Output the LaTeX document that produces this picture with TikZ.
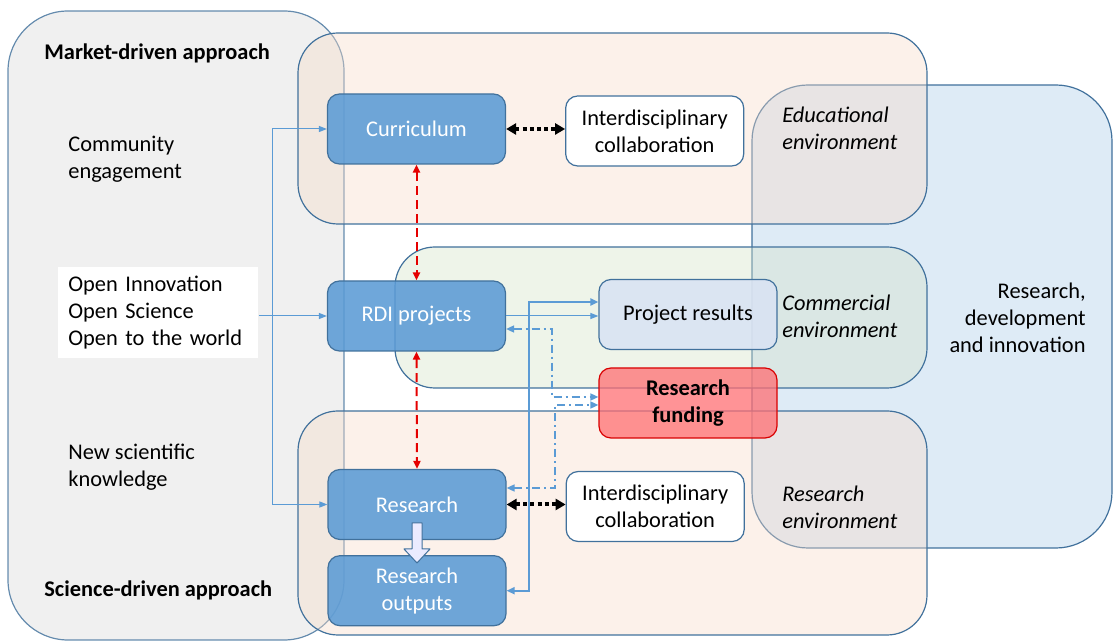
\documentclass[tikz,border=0pt]{standalone}
\usepackage{fontspec}
\setmainfont{Carlito}
\usepackage{xcolor}
\usetikzlibrary{positioning, arrows.meta}

\definecolor{edgeblue}{HTML}{41719C}
\definecolor{nodeblue}{HTML}{5B9BD5}
\definecolor{paleblue}{HTML}{DAE3F3}
\definecolor{rdiblue}{HTML}{BDD7EE}
\definecolor{peach}{HTML}{F7DCCA}
\definecolor{mint}{HTML}{D4E3C8}
\definecolor{fundred}{HTML}{FF6F73}
\definecolor{linkblue}{HTML}{5B9BD5}

\begin{document}
\begin{tikzpicture}[
  x=0.5pt, y=-0.5pt,
  font=\fontsize{11.2}{13.5}\selectfont,
  region/.style={draw=edgeblue, line width=0.6pt, rounded corners=20pt},
  bluebox/.style={draw=edgeblue, fill=nodeblue, fill opacity=0.88, text opacity=1,
    rounded corners=6pt, minimum width=89pt, minimum height=35pt, align=center,
    text=white, line width=0.6pt},
  whitebox/.style={bluebox, fill=white, fill opacity=1, text=black},
  resultbox/.style={bluebox, fill=paleblue, fill opacity=0.9, text=black},
  fundbox/.style={bluebox, draw=red!85!black, fill=fundred, fill opacity=0.75,
    text=black, font=\fontsize{11.2}{13.5}\selectfont\bfseries},
  lbl/.style={anchor=west, align=left, inner xsep=0pt},
  envlbl/.style={lbl, font=\fontsize{11.2}{13.5}\selectfont\itshape},
  thinarr/.style={-{Triangle[length=4pt, width=3pt]}, draw=linkblue, line width=0.5pt},
  thickarr/.style={{Triangle[length=4pt, width=3.5pt]}-{Triangle[length=4pt, width=3.5pt]},
    draw=linkblue, line width=1pt},
  dasharr/.style={{Triangle[length=4pt, width=3.5pt]}-{Triangle[length=4pt, width=3.5pt]},
    draw=linkblue, line width=0.8pt, dash pattern=on 4pt off 2pt on 1pt off 2pt},
  reddash/.style={{Triangle[length=4pt, width=3.5pt]}-{Triangle[length=4pt, width=3.5pt]},
    draw=red!90!black, line width=1pt, dash pattern=on 4.5pt off 2.5pt},
  dotarr/.style={{Triangle[length=5pt, width=5.5pt]}-{Triangle[length=5pt, width=5.5pt]},
    draw=black, line width=2pt, dash pattern=on 2pt off 1.6pt}
]
\useasboundingbox (0,0) rectangle (1116,641);

% regions
\draw[region, rounded corners=30pt, fill=black!6, draw opacity=0.8] (8,11) rectangle (344,640);
\draw[region, rounded corners=28pt, fill=rdiblue, fill opacity=0.5] (752,85) rectangle (1112,548);
\draw[region, fill=peach, fill opacity=0.4] (298,33) rectangle (927,224);
\draw[region, fill=mint, fill opacity=0.4] (395,247) rectangle (927,388);
\draw[region, fill=peach, fill opacity=0.4] (298,411) rectangle (927,635);

% approach labels
\node[lbl, font=\fontsize{11.2}{13.5}\selectfont\bfseries] (market) at (44,53) {Market-driven approach};
\node[lbl, font=\fontsize{11.2}{13.5}\selectfont\bfseries] (science) at (44,590) {Science-driven approach};
\node[lbl] (community) at (68,159.5) {Community\\engagement};
\node[lbl, fill=white, text width=90pt, inner xsep=5pt, minimum height=45.5pt]
  (open) at (58,313) {Open Innovation\\Open Science\\Open to the world};
\node[lbl] (newsci) at (68,467.5) {New scientific\\knowledge};

% environment labels
\node[envlbl] (edu) at (782,128) {Educational\\environment};
\node[envlbl] (comm) at (782,316.5) {Commercial\\environment};
\node[envlbl] (resenv) at (782,507.5) {Research\\environment};
\node[anchor=east, align=right, inner xsep=0pt] (rdilbl) at (1086,317.5) {Research,\\development\\and innovation};

% boxes
\node[bluebox] (curriculum) at (416.5,129) {Curriculum};
\node[whitebox, right=29.5pt of curriculum, yshift=-1pt] (collabtop) {Interdisciplinary\\collaboration};
\node[bluebox] (rdi) at (416.5,316) {RDI projects};
\node[resultbox] (results) at (688,314.5) {Project results};
\node[fundbox] (funding) at (688,403) {Research\\funding};
\node[bluebox] (research) at (417,504.5) {Research};
\node[bluebox, below=7.5pt of research] (outputs) {Research\\outputs};
\node[whitebox, right=29.5pt of research, yshift=-1pt] (collabbot) {Interdisciplinary\\collaboration};

% block arrow research -> outputs
\draw[draw=edgeblue, fill=blue!8!white, line width=0.5pt, line join=round]
  (412,523) -- (422,523) -- (422,549) -- (430,549) -- (417,563)
  -- (404,549) -- (412,549) -- cycle;

% inputs from the left
\coordinate (spine) at (272,0);
\draw[draw=linkblue, line width=0.5pt] (spine |- curriculum.west) -- (spine |- research.west);
\draw[thinarr] (spine |- curriculum.west) -- (curriculum.west);
\draw[thinarr] (spine |- research.west) -- (research.west);
\draw[thinarr] (open.east |- rdi.west) -- (rdi.west);

% links
\draw[dotarr] (curriculum.east) -- (curriculum.east -| collabtop.west);
\draw[dotarr] (research.east) -- (research.east -| collabbot.west);
\draw[reddash] (curriculum.south) -- (rdi.north);
\draw[reddash] (rdi.south) -- (research.north);
\draw[thinarr] (rdi.east) -- (rdi.east -| results.west);
\coordinate (bus) at (529,0);
\draw[thickarr] ([yshift=6.25pt]results.west) -| (bus |- outputs.east) -- (outputs.east);
\coordinate (tapA) at (552,397);
\coordinate (tapB) at (555,405);
\draw[dasharr] ([yshift=-6.5pt]rdi.east) -| (tapA) -- (tapA -| funding.west);
\draw[dasharr] ([yshift=8.25pt]research.east) -| (tapB) -- (tapB -| funding.west);
\end{tikzpicture}
\end{document}
